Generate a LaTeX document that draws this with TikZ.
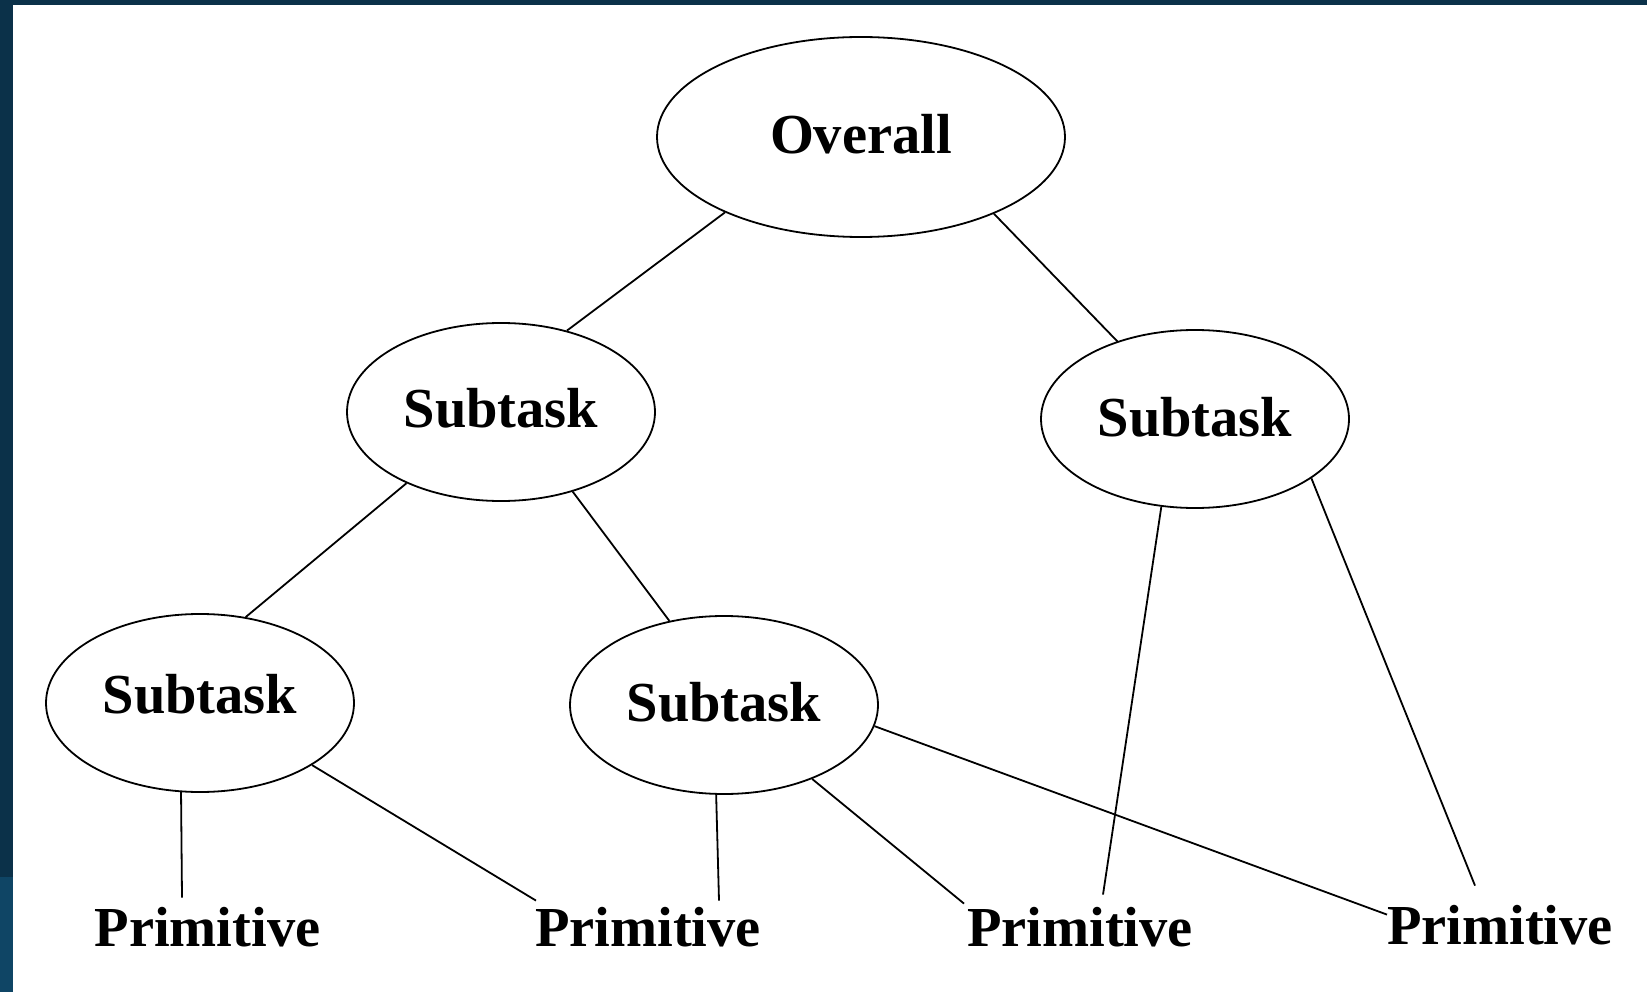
\documentclass[tikz,border=0pt]{standalone}
\usepackage{fontspec}
\setmainfont{Liberation Serif}
\usetikzlibrary{shapes.geometric}
\definecolor{banddark}{HTML}{0B3149}
\definecolor{bandlight}{HTML}{0F4565}
\begin{document}
\begin{tikzpicture}[x=1pt,y=-1pt,
  task/.style={ellipse,draw,line width=1.8pt,inner sep=0pt,font=\fontsize{56.5}{60}\selectfont\bfseries},
  sub/.style={task,minimum width=308pt,minimum height=178pt},
  prim/.style={inner sep=0pt,anchor=base,font=\fontsize{56.5}{60}\selectfont\bfseries},
  link/.style={line width=1.8pt}]
\useasboundingbox (0,0) rectangle (1647,992);
\fill[white] (0,0) rectangle (1647,992);
\fill[banddark] (0,0) rectangle (1647,5);
\fill[banddark] (0,0) rectangle (13,877);
\fill[bandlight] (0,877) rectangle (13,992);

\node[task,minimum width=408pt,minimum height=200pt,text depth=6pt] (O) at (861,137) {Overall};
\node[sub,text depth=8pt] (S1) at (501,412) {Subtask};
\node[sub,text depth=4pt] (S2) at (1195,419) {Subtask};
\node[sub,text depth=18pt] (S3) at (200,703) {Subtask};
\node[sub,text depth=6pt] (S4) at (724,705) {Subtask};

\node[prim] (P1) at (207.5,946) {Primitive};
\node[prim] (P2) at (648,946) {Primitive};
\node[prim] (P3) at (1080,946) {Primitive};
\node[prim] (P4) at (1500,944) {Primitive};

\draw[link] (O.209.5) -- (S1.51.7);
\draw[link] (O.330) -- (S2.135);
\draw[link] (S1.217) -- (S3.62.6);
\draw[link] (S1.312.5) -- (S4.123);
\draw[link] (S2.249.4) -- ([xshift=23pt,yshift=12pt]P3.north);
\draw[link] (S2.333) -- ([xshift=-25pt,yshift=19pt]P4.north);
\draw[link] (S3.258) -- ([xshift=-25.5pt,yshift=9pt]P1.north);
\draw[link] (S3.331) -- ([xshift=-112pt,yshift=6pt]P2.north);
\draw[link] (S4.265.5) -- ([xshift=71pt,yshift=6pt]P2.north);
\draw[link] (S4.320) -- ([xshift=-116pt,yshift=3pt]P3.north);
\draw[link] (S4.352) -- ([xshift=-113pt,yshift=-10pt]P4.north);
\end{tikzpicture}
\end{document}
